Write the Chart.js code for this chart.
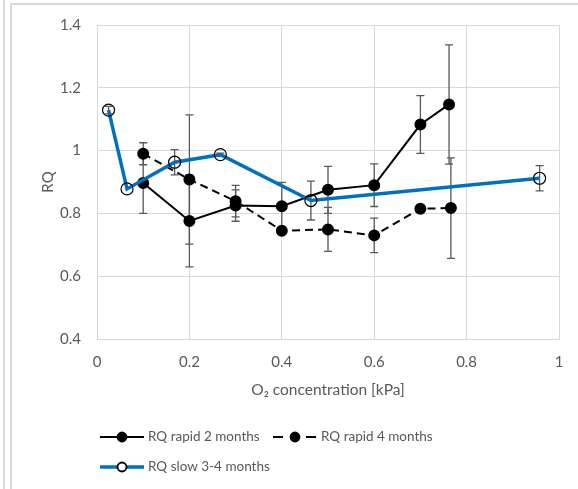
<!DOCTYPE html>
<html>
<head>
<meta charset="utf-8">
<script src="https://cdn.jsdelivr.net/npm/chart.js@4.4.0/dist/chart.umd.min.js"></script>
<style>
  body { margin: 0; background: #fff; }
  #wrap { position: relative; width: 578px; height: 489px; overflow: hidden; }
  .frame1 { position: absolute; left: 3px; top: 0; width: 0; height: 489px; border-left: 2px solid #d9d9d9; }
  .frame2 { position: absolute; left: 10px; top: 3px; width: 600px; height: 600px; border-left: 2px solid #d9d9d9; border-top: 2px solid #d9d9d9; }
  #myChart { position: absolute; left: 0; top: 0; }
</style>
</head>
<body>
<div id="wrap">
  <div class="frame1"></div>
  <div class="frame2"></div>
  <canvas id="myChart" width="578" height="489"></canvas>
</div>
<script>
// RQ rapid 2 months
var rapid2X = [0.1, 0.2, 0.3, 0.4, 0.5, 0.6, 0.7, 0.762];
var rapid2Y = [0.897, 0.776, 0.825, 0.823, 0.875, 0.890, 1.083, 1.147];
var rapid2Err = [0.097, 0.146, 0.05, 0.076, 0.075, 0.068, 0.092, 0.19];

// RQ rapid 4 months
var rapid4X = [0.1, 0.2, 0.3, 0.4, 0.5, 0.6, 0.7, 0.766];
var rapid4Y = [0.99, 0.908, 0.839, 0.745, 0.749, 0.730, 0.815, 0.817];
var rapid4Err = [0.035, 0.206, 0.05, 0, 0.07, 0.055, 0, 0.16];

// RQ slow 3-4 months
var slowX = [0.025, 0.065, 0.168, 0.267, 0.463, 0.958];
var slowY = [1.129, 0.878, 0.963, 0.987, 0.841, 0.912];
var slowErr = [0.012, 0, 0.04, 0.005, 0.062, 0.04];

var xTicks = [0, 0.2, 0.4, 0.6, 0.8, 1];
var yTicks = [0.4, 0.6, 0.8, 1, 1.2, 1.4];
var seriesNames = ['RQ rapid 2 months', 'RQ rapid 4 months', 'RQ slow 3-4 months'];

var textColor = '#595959';
var fontFam = "Lato, sans-serif";

function toPoints(xs, ys) {
    var pts = [];
    for (var i = 0; i < xs.length; i++) {
        pts.push({ x: xs[i], y: ys[i] });
    }
    return pts;
}

// vertical error bars with caps, drawn under the markers
const errorBars = {
    id: 'errorBars',
    beforeDatasetsDraw(chart) {
        var ctx = chart.ctx;
        var xs = chart.scales.x, ys = chart.scales.y;
        ctx.save();
        ctx.strokeStyle = '#595959';
        ctx.lineWidth = 1.3;
        chart.data.datasets.forEach(function(ds) {
            if (!ds.errors) return;
            ds.data.forEach(function(p, i) {
                var e = ds.errors[i];
                if (!e) return;
                var px = xs.getPixelForValue(p.x);
                var top = ys.getPixelForValue(p.y + e);
                var bot = ys.getPixelForValue(p.y - e);
                ctx.beginPath();
                ctx.moveTo(px, top); ctx.lineTo(px, bot);
                ctx.moveTo(px - 4, top); ctx.lineTo(px + 4, top);
                ctx.moveTo(px - 4, bot); ctx.lineTo(px + 4, bot);
                ctx.stroke();
            });
        });
        ctx.restore();
    }
};

// legend laid out like the original (2 rows, left aligned)
const customLegend = {
    id: 'customLegend',
    afterDraw(chart) {
        var ctx = chart.ctx;
        var byName = {};
        chart.data.datasets.forEach(function(d) { byName[d.label] = d; });
        var d0 = byName[seriesNames[0]], d1 = byName[seriesNames[1]], d2 = byName[seriesNames[2]];
        ctx.save();
        ctx.font = "13.5px " + fontFam;
        ctx.textBaseline = 'middle';

        function marker(d, x, y) {
            ctx.beginPath();
            ctx.arc(x, y, 4.5, 0, Math.PI * 2);
            ctx.fillStyle = d.pointBackgroundColor === 'transparent' ? '#fff' : d.pointBackgroundColor;
            ctx.fill();
            ctx.lineWidth = 1.8;
            ctx.strokeStyle = d.pointBorderColor;
            ctx.stroke();
        }

        // item 1
        var y1 = 437;
        ctx.strokeStyle = d0.borderColor; ctx.lineWidth = 2;
        ctx.beginPath(); ctx.moveTo(100, y1); ctx.lineTo(144, y1); ctx.stroke();
        marker(d0, 122, y1);
        ctx.fillStyle = textColor;
        ctx.fillText(seriesNames[0], 148, y1);

        // item 2
        ctx.strokeStyle = d1.borderColor; ctx.lineWidth = 2;
        ctx.beginPath();
        ctx.moveTo(273, y1); ctx.lineTo(283, y1);
        ctx.moveTo(306, y1); ctx.lineTo(316, y1);
        ctx.stroke();
        marker(d1, 295, y1);
        ctx.fillStyle = textColor;
        ctx.fillText(seriesNames[1], 321, y1);

        // item 3
        var y2 = 467;
        ctx.strokeStyle = d2.borderColor; ctx.lineWidth = 3.5;
        ctx.beginPath(); ctx.moveTo(100, y2); ctx.lineTo(144, y2); ctx.stroke();
        marker(d2, 122, y2);
        ctx.fillStyle = textColor;
        ctx.fillText(seriesNames[2], 148, y2);
        ctx.restore();
    }
};

var grapharea = document.getElementById('myChart');
const data = {
    datasets: [{
        label: seriesNames[2],
        data: toPoints(slowX, slowY),
        errors: slowErr,
        showLine: true,
        borderColor: '#0070C0',
        borderWidth: 3.5,
        pointRadius: 6,
        pointBackgroundColor: 'transparent',
        pointBorderColor: '#000',
        pointBorderWidth: 1.2,
        order: 0
    }, {
        label: seriesNames[0],
        data: toPoints(rapid2X, rapid2Y),
        errors: rapid2Err,
        showLine: true,
        borderColor: '#000',
        borderWidth: 2,
        pointRadius: 5,
        pointBackgroundColor: '#000',
        pointBorderColor: '#000',
        order: 1
    }, {
        label: seriesNames[1],
        data: toPoints(rapid4X, rapid4Y),
        errors: rapid4Err,
        showLine: true,
        borderColor: '#000',
        borderWidth: 2,
        borderDash: [8, 5],
        pointRadius: 5,
        pointBackgroundColor: '#000',
        pointBorderColor: '#000',
        order: 2
    }]
};

const config = {
    type: 'scatter',
    data: data,
    options: {
        responsive: false,
        animation: false,
        layout: { padding: { left: 0, top: 24, right: 19, bottom: 90 } },
        plugins: {
            legend: { display: false },
            tooltip: { enabled: false }
        },
        scales: {
            x: {
                type: 'linear',
                min: 0, max: 1,
                afterBuildTicks: function(s) { s.ticks = xTicks.map(function(v) { return { value: v }; }); },
                afterFit: function(s) { s.height = 60; },
                grid: { color: '#d9d9d9', drawTicks: false },
                border: { color: '#d9d9d9' },
                ticks: {
                    color: textColor, padding: 14, font: { family: fontFam, size: 15 },
                    callback: function(v) { return String(v); }
                },
                title: {
                    display: true,
                    text: 'O\u2082 concentration [kPa]',
                    color: textColor,
                    font: { family: fontFam, size: 15.5 },
                    padding: { top: 0, bottom: 0 }
                }
            },
            y: {
                min: 0.4, max: 1.4,
                afterBuildTicks: function(s) { s.ticks = yTicks.map(function(v) { return { value: v }; }); },
                afterFit: function(s) { s.width = 97; },
                grid: { color: '#d9d9d9', drawTicks: false },
                border: { color: '#d9d9d9' },
                ticks: {
                    color: textColor, padding: 16, font: { family: fontFam, size: 15 },
                    callback: function(v) { return String(v); }
                },
                title: {
                    display: true,
                    text: 'RQ',
                    color: textColor,
                    font: { family: fontFam, size: 15 },
                    padding: { top: 39, bottom: 0 }
                }
            }
        }
    },
    plugins: [errorBars, customLegend]
};
const myChart = new Chart(grapharea, config);
</script>
</body>
</html>
